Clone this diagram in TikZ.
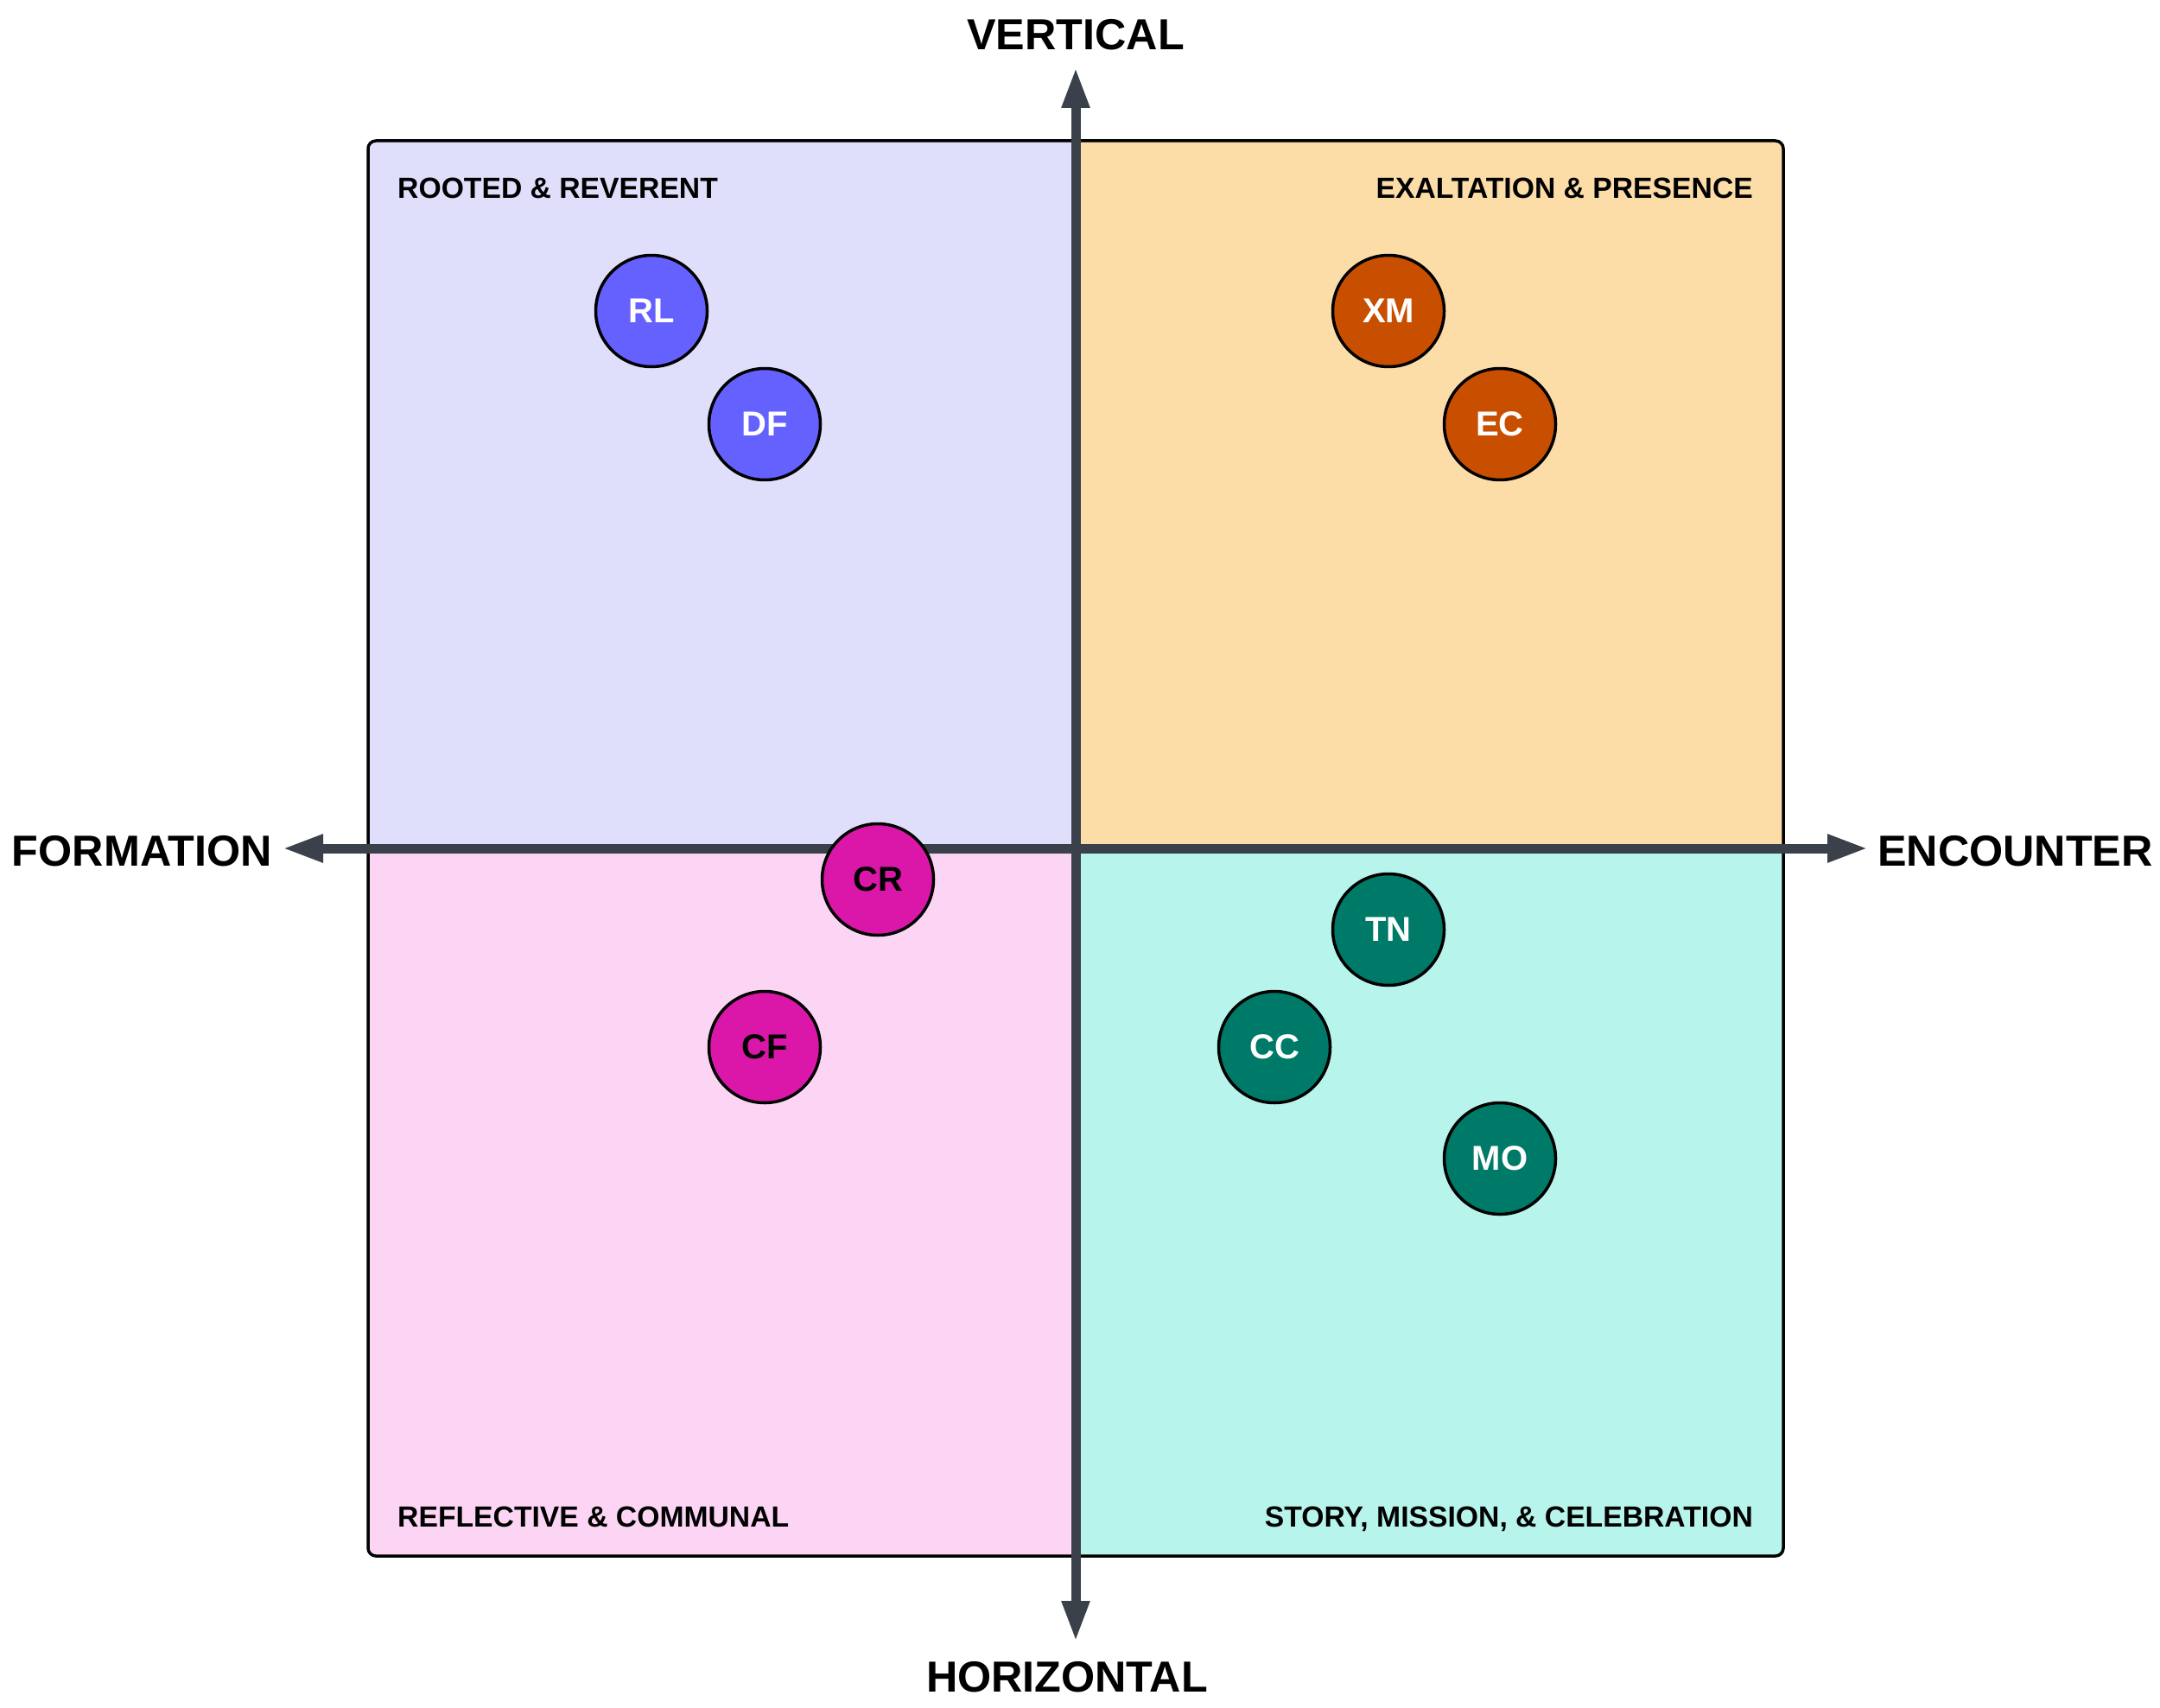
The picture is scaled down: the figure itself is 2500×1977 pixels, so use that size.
\documentclass[tikz,border=0pt]{standalone}
\usepackage{fontspec}
\setmainfont{Liberation Sans}
\usetikzlibrary{arrows.meta}
\definecolor{axisc}{HTML}{3B414B}
\definecolor{qtl}{HTML}{DFDFFC}
\definecolor{qtr}{HTML}{FCDDA8}
\definecolor{qbl}{HTML}{FCD5F4}
\definecolor{qbr}{HTML}{B7F4EC}
\definecolor{cind}{HTML}{6461FF}
\definecolor{corg}{HTML}{C94F00}
\definecolor{cmag}{HTML}{DA17A8}
\definecolor{ctea}{HTML}{007A68}
\tikzset{
  axisline/.style={draw=axisc, line width=11pt,
    {Triangle[length=47pt,width=30pt]}-{Triangle[length=47pt,width=30pt]}},
  axislabel/.style={inner sep=0pt, font=\fontsize{50.3}{58}\selectfont\bfseries},
  quadlabel/.style={inner sep=0pt, font=\fontsize{33.7}{40}\selectfont\bfseries},
  dot/.style={circle, draw=black, line width=3.5pt, minimum size=129pt, inner sep=0pt,
    font=\fontsize{40}{48}\selectfont\bfseries},
}
\begin{document}
\begin{tikzpicture}[x=1pt,y=-1pt]
\useasboundingbox (0,0) rectangle (2500,1977);
\coordinate (C) at (1245,982);
\coordinate (TL) at (426,163);
\coordinate (BR) at (2064,1801);
\begin{scope}
  \clip[rounded corners=9pt] (TL) rectangle (BR);
  \fill[qtl] (426,163) rectangle (1245,982);
  \fill[qtr] (1245,163) rectangle (2064,982);
  \fill[qbl] (426,982) rectangle (1245,1801);
  \fill[qbr] (1245,982) rectangle (2064,1801);
\end{scope}
\draw[line width=3.5pt, rounded corners=9pt] (TL) rectangle (BR);

\coordinate (vtop) at (1245,78);
\coordinate (vbot) at (1245,1900);
\coordinate (hl) at (327,982);
\coordinate (hr) at (2162,982);
\draw[axisline] (vbot) -- (vtop);
\draw[axisline] (hl) -- (hr);

\node[axislabel, anchor=base] (lv) at (1245,58) {VERTICAL};
\node[axislabel, anchor=base] (lh) at (1235,1958) {HORIZONTAL};
\node[axislabel, anchor=base east] (lf) at (315,1002) {FORMATION};
\node[axislabel, anchor=base west] (le) at (2173,1002) {ENCOUNTER};

\node[quadlabel, anchor=base west] (q1) at (460,230) {ROOTED \& REVERENT};
\node[quadlabel, anchor=base east] (q2) at (2029,230) {EXALTATION \& PRESENCE};
\node[quadlabel, anchor=base west] (q3) at (460,1767) {REFLECTIVE \& COMMUNAL};
\node[quadlabel, anchor=base east] (q4) at (2029,1767) {STORY, MISSION, \& CELEBRATION};

\node[dot, fill=cind, text=white] (RL) at (754,360) {RL};
\node[dot, fill=cind, text=white] (DF) at (885,491) {DF};
\node[dot, fill=corg, text=white] (XM) at (1607,360) {XM};
\node[dot, fill=corg, text=white] (EC) at (1736,491) {EC};
\node[dot, fill=cmag, text=black] (CR) at (1016,1018) {CR};
\node[dot, fill=cmag, text=black] (CF) at (885,1212) {CF};
\node[dot, fill=ctea, text=white] (TN) at (1607,1076) {TN};
\node[dot, fill=ctea, text=white] (CC) at (1475,1212) {CC};
\node[dot, fill=ctea, text=white] (MO) at (1736,1341) {MO};
\end{tikzpicture}
\end{document}
